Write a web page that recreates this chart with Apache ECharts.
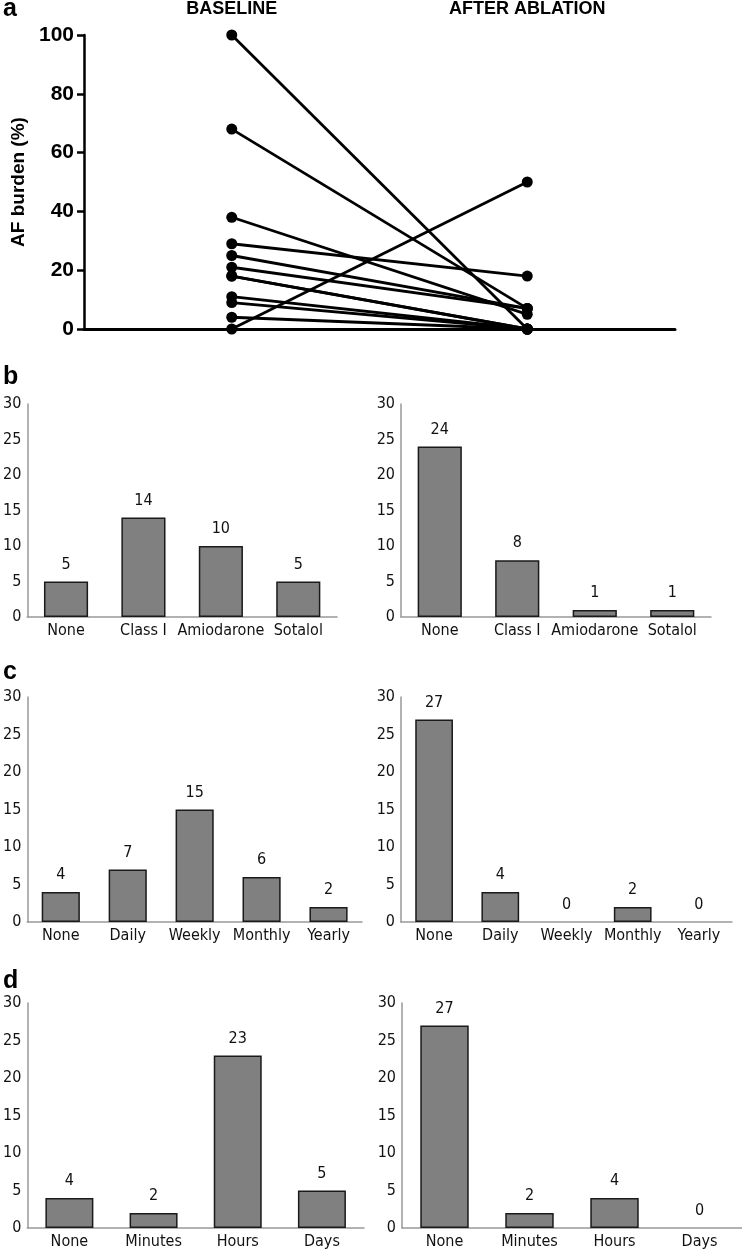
<!DOCTYPE html>
<html>
<head>
<meta charset="utf-8">
<script src="https://cdn.jsdelivr.net/npm/echarts@6/dist/echarts.min.js"></script>
<style>
  html, body { margin: 0; padding: 0; background: #fff; }
  #chart { width: 742px; height: 1250px; }
</style>
</head>
<body>
<div id="chart"></div>
<script>
// panel a: AF burden per patient, baseline -> after ablation
const afBaseline = [100, 68, 38, 29, 25, 21, 18, 18, 11, 9, 4, 0]
const afAfter = [0, 7, 5, 18, 7, 7, 0, 0, 0, 0, 0, 50]
const afPhases = ['BASELINE', 'AFTER ABLATION']

// panel b: antiarrhythmic drugs
const drugCats = ['None', 'Class I', 'Amiodarone', 'Sotalol']
const drugBaseline = [5, 14, 10, 5]
const drugAfter = [24, 8, 1, 1]

// panel c: episode frequency
const freqCats = ['None', 'Daily', 'Weekly', 'Monthly', 'Yearly']
const freqBaseline = [4, 7, 15, 6, 2]
const freqAfter = [27, 4, 0, 2, 0]

// panel d: episode duration
const durCats = ['None', 'Minutes', 'Hours', 'Days']
const durBaseline = [4, 2, 23, 5]
const durAfter = [27, 2, 4, 0]

const barFont = 'DejaVu Sans Condensed, DejaVu Sans'
const boldFont = 'Liberation Sans'

const barGrids = [
  { left: 22, top: 404, width: 315, height: 213 },
  { left: 401, top: 404, width: 310, height: 213 },
  { left: 23, top: 697, width: 339, height: 225 },
  { left: 401, top: 697, width: 331, height: 225 },
  { left: 24, top: 1003, width: 340, height: 225 },
  { left: 402, top: 1003, width: 340, height: 225 }
]
const barPanels = [
  { cats: drugCats, data: drugBaseline },
  { cats: drugCats, data: drugAfter },
  { cats: freqCats, data: freqBaseline },
  { cats: freqCats, data: freqAfter },
  { cats: durCats, data: durBaseline },
  { cats: durCats, data: durAfter }
]

const chart = echarts.init(document.getElementById('chart'))

const grid = [{ left: 84, top: 35, width: 591, height: 294 }].concat(barGrids)

const xAxis = [
  {
    gridIndex: 0,
    type: 'value',
    min: 0,
    max: 4,
    axisLine: { show: true, onZero: false, lineStyle: { color: '#000', width: 3 } },
    axisTick: { show: false },
    axisLabel: { show: false },
    splitLine: { show: false }
  },
  {
    gridIndex: 0,
    type: 'value',
    position: 'top',
    min: 0,
    max: 4,
    interval: 1,
    axisLine: { show: false },
    axisTick: { show: false },
    splitLine: { show: false },
    axisLabel: {
      margin: 17,
      fontFamily: boldFont,
      fontWeight: 'bold',
      fontSize: 18,
      color: '#000',
      formatter: v => (v === 1 ? afPhases[0] : v === 3 ? afPhases[1] : '')
    }
  }
]
const yAxis = [
  {
    gridIndex: 0,
    type: 'value',
    min: 0,
    max: 100,
    interval: 20,
    name: 'AF burden (%)',
    nameLocation: 'middle',
    nameGap: 56,
    nameTextStyle: { fontFamily: boldFont, fontWeight: 'bold', fontSize: 19, color: '#000' },
    axisLine: { show: true, lineStyle: { color: '#000', width: 2.5 } },
    axisTick: { show: true, length: 7, lineStyle: { color: '#000', width: 2.5 } },
    splitLine: { show: false },
    axisLabel: {
      margin: 10,
      fontFamily: boldFont,
      fontWeight: 'bold',
      fontSize: 21,
      color: '#000'
    }
  }
]

const series = afBaseline.map((b, i) => ({
  type: 'line',
  xAxisIndex: 0,
  yAxisIndex: 0,
  data: [[1, b], [3, afAfter[i]]],
  symbol: 'circle',
  symbolSize: 11,
  clip: false,
  lineStyle: { color: '#000', width: 2.8 },
  itemStyle: { color: '#000' },
  silent: true
}))

barPanels.forEach((p, k) => {
  const gi = k + 1
  xAxis.push({
    gridIndex: gi,
    type: 'category',
    data: p.cats,
    axisLine: { lineStyle: { color: '#999', width: 1.5 } },
    axisTick: { show: false },
    axisLabel: { interval: 0, margin: 6, fontFamily: barFont, fontSize: 16, color: '#111' }
  })
  yAxis.push({
    gridIndex: gi,
    type: 'value',
    min: 0,
    max: 30,
    interval: 5,
    axisLine: { show: true, lineStyle: { color: '#999', width: 1.5 } },
    axisTick: { show: false },
    splitLine: { show: false },
    axisLabel: { margin: 6, fontFamily: barFont, fontSize: 16, color: '#111' }
  })
  series.push({
    type: 'bar',
    xAxisIndex: xAxis.length - 1,
    yAxisIndex: yAxis.length - 1,
    // empty categories get no outline
    data: p.data.map(v => (v === 0 ? { value: v, itemStyle: { borderWidth: 0 } } : v)),
    barWidth: '57%',
    itemStyle: { color: '#808080', borderColor: '#1a1a1a', borderWidth: 1.5 },
    label: { show: true, position: 'top', distance: 9, fontFamily: barFont, fontSize: 16, color: '#111' },
    silent: true
  })
})

const letter = (t, x, y) => ({
  type: 'text',
  left: x,
  top: y,
  style: { text: t, fontFamily: boldFont, fontWeight: 'bold', fontSize: 25, fill: '#000' }
})

chart.setOption({
  animation: false,
  grid,
  xAxis,
  yAxis,
  series,
  graphic: [
    letter('a', 3, -3),
    letter('b', 3, 365),
    letter('c', 3, 660),
    letter('d', 3, 969)
  ]
})
</script>
</body>
</html>
